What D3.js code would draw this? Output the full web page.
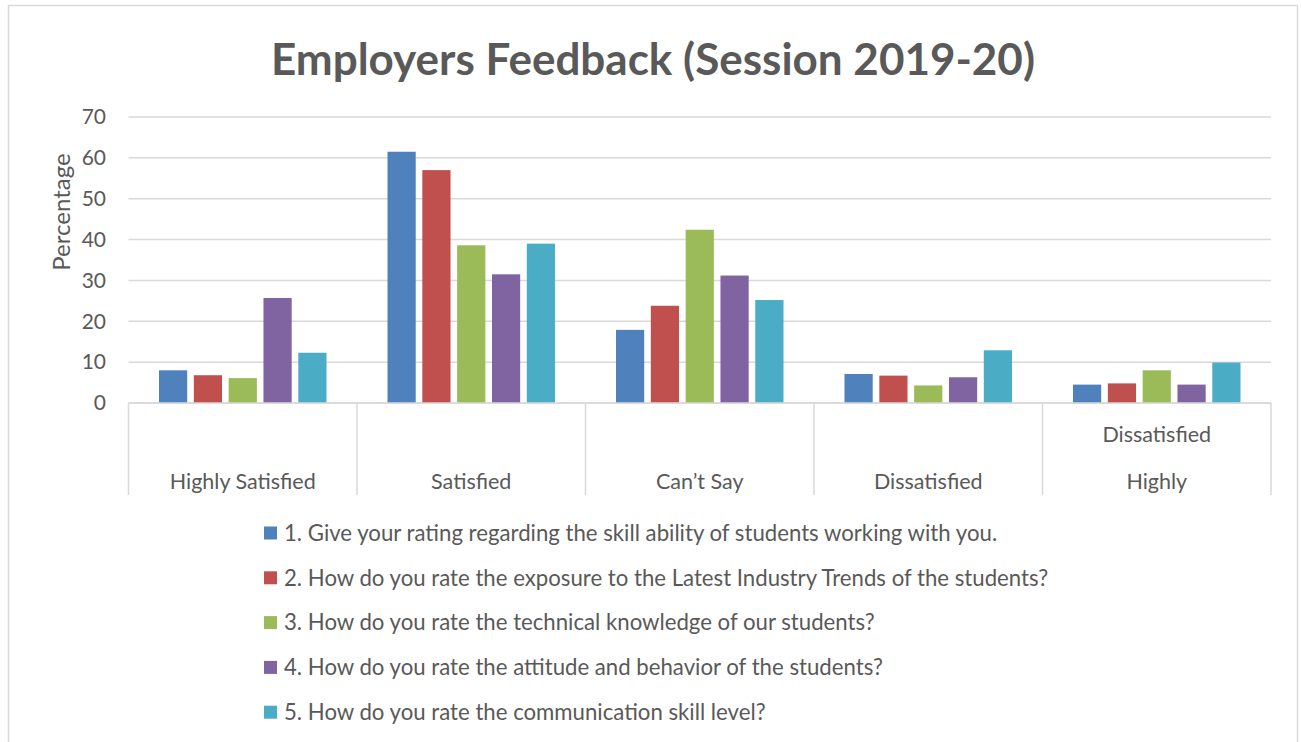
<!DOCTYPE html>
<html>
<head>
<meta charset="utf-8">
<script src="https://cdn.jsdelivr.net/npm/d3@7"></script>
<style>
    body { margin: 0; background: #fff; }
    text { font-family: Lato, "Open Sans", sans-serif; fill: #595959; }
    .grid line { stroke: #d9d9d9; stroke-width: 1.5; }
    .catAxis line { stroke: #d9d9d9; stroke-width: 1.5; }
</style>
</head>
<body>
<div id="main"></div>
<script>
const ctx = {
    SVG_W: 1301,
    SVG_H: 742,
};

const categories = ["Highly Satisfied", "Satisfied", "Can\u2019t Say", "Dissatisfied", "Highly Dissatisfied"];
const series = [
    "1. Give your rating regarding the skill ability of students working with you.",
    "2. How do you rate the exposure to the Latest Industry Trends of the students?",
    "3. How do you rate the technical knowledge of our students?",
    "4. How do you rate the attitude and behavior of the students?",
    "5. How do you rate the communication skill level?",
];
const q1 = [8.0, 61.5, 17.9, 7.1, 4.5];
const q2 = [6.8, 57.0, 23.8, 6.7, 4.8];
const q3 = [6.1, 38.6, 42.4, 4.3, 8.0];
const q4 = [25.7, 31.5, 31.2, 6.3, 4.5];
const q5 = [12.3, 39.0, 25.2, 12.9, 9.9];
const yTicks = [0, 10, 20, 30, 40, 50, 60, 70];
const colors = ["#4f81bd", "#c0504d", "#9bbb59", "#8064a2", "#4bacc6"];

function createViz() {
    let svgEl = d3.select("#main").append("svg")
        .attr("width", ctx.SVG_W)
        .attr("height", ctx.SVG_H);

    // chart area border
    svgEl.append("rect")
        .attr("x", 8.5).attr("y", 5.5)
        .attr("width", 1289).attr("height", 760)
        .attr("fill", "none")
        .attr("stroke", "#d9d9d9")
        .attr("stroke-width", 1.5);

    svgEl.append("text")
        .attr("x", 653).attr("y", 75)
        .attr("text-anchor", "middle")
        .style("font-size", "44px")
        .style("font-weight", "bold")
        .text("Employers Feedback (Session 2019-20)");

    const plot = { left: 128.5, right: 1271, top: 117, bottom: 403 };

    let y = d3.scaleLinear().domain([0, 70]).range([plot.bottom, plot.top]);
    let x0 = d3.scaleBand().domain(categories).range([plot.left, plot.right]);
    let x1 = d3.scaleBand().domain(d3.range(series.length))
        .range([30.5, x0.bandwidth() - 30.5])
        .paddingInner(0.19);

    // gridlines
    let grid = svgEl.append("g").attr("class", "grid");
    grid.selectAll("line")
        .data(yTicks)
        .enter()
        .append("line")
        .attr("x1", plot.left).attr("x2", plot.right)
        .attr("y1", d => y(d)).attr("y2", d => y(d));

    // y tick labels
    svgEl.append("g").selectAll("text")
        .data(yTicks)
        .enter()
        .append("text")
        .attr("x", 106)
        .attr("y", d => y(d))
        .attr("dy", "0.35em")
        .attr("text-anchor", "end")
        .style("font-size", "21px")
        .text(d => d);

    svgEl.append("text")
        .attr("transform", "translate(70,212) rotate(-90)")
        .attr("text-anchor", "middle")
        .style("font-size", "24px")
        .text("Percentage");

    // bars
    const values = [q1, q2, q3, q4, q5];
    let groups = svgEl.append("g").selectAll("g")
        .data(categories)
        .enter()
        .append("g")
        .attr("transform", d => "translate(" + x0(d) + ",0)");
    groups.selectAll("rect")
        .data((d, i) => values.map((v, s) => ({ s: s, v: v[i] })))
        .enter()
        .append("rect")
        .attr("x", d => x1(d.s))
        .attr("width", x1.bandwidth())
        .attr("y", d => y(d.v))
        .attr("height", d => y(0) - y(d.v))
        .attr("fill", d => colors[d.s]);

    // category axis with box-style ticks
    let catAxis = svgEl.append("g").attr("class", "catAxis");
    catAxis.append("line")
        .attr("x1", plot.left).attr("x2", plot.right)
        .attr("y1", plot.bottom).attr("y2", plot.bottom);
    let edges = categories.map(c => x0(c)).concat([plot.right]);
    catAxis.selectAll("line.tick")
        .data(edges)
        .enter()
        .append("line")
        .attr("class", "tick")
        .attr("x1", d => d).attr("x2", d => d)
        .attr("y1", plot.bottom).attr("y2", 495);

    // category labels (last one is wrapped, shown in two lines)
    let catLabels = svgEl.append("g").selectAll("text")
        .data(categories)
        .enter()
        .append("text")
        .attr("text-anchor", "middle")
        .style("font-size", "21.5px");
    catLabels.each(function (d) {
        let t = d3.select(this);
        let cx = x0(d) + x0.bandwidth() / 2;
        let words = d.split(" ");
        if (d === "Highly Dissatisfied") {
            t.append("tspan").attr("x", cx).attr("y", 442).text(words[1]);
            t.append("tspan").attr("x", cx).attr("y", 489).text(words[0]);
        } else {
            t.append("tspan").attr("x", cx).attr("y", 489).text(d);
        }
    });

    // legend
    let legend = svgEl.append("g").selectAll("g")
        .data(series)
        .enter()
        .append("g")
        .attr("transform", (d, i) => "translate(264," + (533 + i * 44.8) + ")");
    legend.append("rect")
        .attr("x", 0).attr("y", -6.5)
        .attr("width", 13).attr("height", 13)
        .attr("fill", (d, i) => colors[i]);
    legend.append("text")
        .attr("x", 20)
        .attr("dy", "0.35em")
        .style("font-size", "22.2px")
        .text(d => d);
}

createViz();
</script>
</body>
</html>
